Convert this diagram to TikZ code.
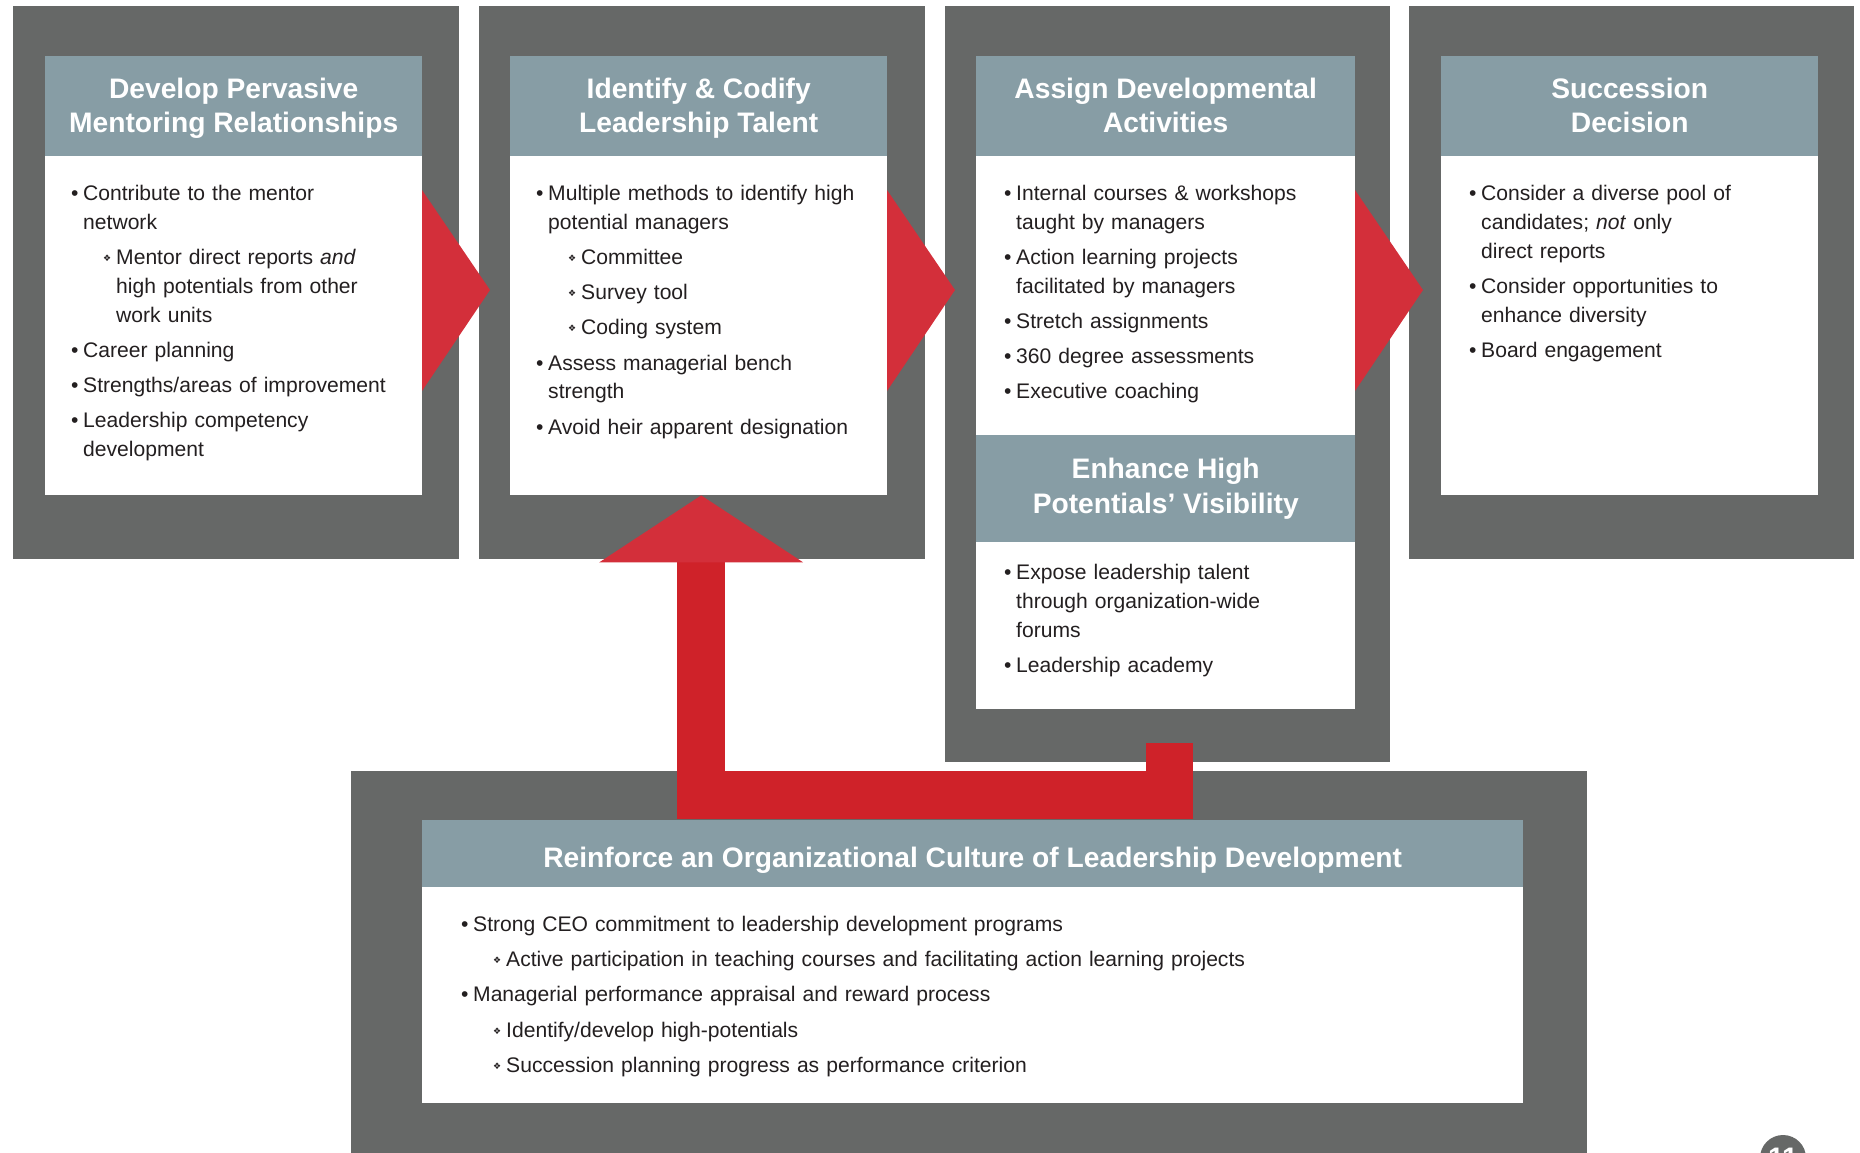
\documentclass[tikz,border=0pt]{standalone}
\usepackage{fontspec}
\setmainfont{Liberation Sans}
\newfontfamily\symfont{DejaVu Sans}
\usetikzlibrary{arrows.meta}

\definecolor{framegray}{HTML}{666867}
\definecolor{headblue}{HTML}{879DA5}
\definecolor{chevred}{HTML}{D32F3A}
\definecolor{barred}{HTML}{CF2229}
\definecolor{textgray}{HTML}{231F20}

\newcommand{\bodyfont}{\fontsize{21.1pt}{28.8pt}\selectfont}
\newcommand{\headfont}{\fontsize{28.2pt}{34.4pt}\selectfont\bfseries}
\newcommand{\hsp}[1][30pt]{\rule{0pt}{#1}}
\newcommand{\itm}[1]{\par\hangindent=12pt\hangafter=1\noindent\strut\makebox[12pt][l]{\textbullet}#1\par}
\newcommand{\subitm}[1]{\par\hangindent=45pt\hangafter=1\noindent\strut\hspace*{32pt}\makebox[13pt][l]{\raisebox{3pt}{\symfont\fontsize{9pt}{9pt}\selectfont ❖}}#1\par}

\begin{document}
\begin{tikzpicture}[x=1pt,y=-1pt,
    boxframe/.style={fill=framegray,anchor=north west,inner sep=0pt,minimum width=446pt},
    boxhead/.style={fill=headblue,text=white,font=\headfont,align=center,anchor=north west,inner sep=0pt,minimum width=377pt,minimum height=99.5pt,execute at end node={\strut}},
    boxbody/.style={fill=white,anchor=north west,inner sep=0pt,minimum width=377pt},
    itemtext/.style={anchor=north west,inner sep=0pt,align=left,text width=#1,font=\bodyfont,text=textgray,execute at begin node={\setlength{\parskip}{6.4pt}}},
    chev/.style={fill=chevred}]
\useasboundingbox (0,0) rectangle (1860,1153);

\node[boxframe,minimum height=553pt] (f1) at (13,6) {};
\node[boxframe,minimum height=553pt] (f2) at (479,6) {};
\node[boxframe,minimum height=756pt,minimum width=445pt] (f3) at (945,6) {};
\node[boxframe,minimum height=553pt,minimum width=445pt] (f4) at (1409,6) {};
\node[boxframe,minimum height=400pt,minimum width=1236pt] (f5) at (351,771) {};

\node[boxbody,minimum height=340pt] (b1) at (45,155) {};
\node[boxbody,minimum height=340pt] (b2) at (510,155) {};
\node[boxbody,minimum height=554pt,minimum width=379pt] (b3) at (976,155) {};
\node[boxbody,minimum height=340pt] (b4) at (1441,155) {};
\node[boxbody,minimum height=216pt,minimum width=1101pt] (b5) at (422,887) {};

\node[boxhead] (h1) at (45,56) {\hsp Develop Pervasive\\Mentoring Relationships};
\node[boxhead] (h2) at (510,56) {\hsp Identify \& Codify\\Leadership Talent};
\node[boxhead,minimum width=379pt] (h3) at (976,56) {\hsp Assign Developmental\\Activities};
\node[boxhead] (h4) at (1441,56) {\hsp Succession\\Decision};
\node[boxhead,minimum width=379pt,minimum height=107pt] (h3b) at (976,435) {\hsp[25pt]Enhance High\\Potentials’ Visibility};
\node[boxhead,minimum width=1101pt,minimum height=67pt] (h5) at (422,820) {\hsp[38pt]Reinforce an Organizational Culture of Leadership Development};

\node[itemtext=345pt] (t1) at (71,165) {%
    \itm{Contribute to the mentor\newline network}
    \subitm{Mentor direct reports \textit{and}\newline high potentials from other\newline work units}
    \itm{Career planning}
    \itm{Strengths/areas of improvement}
    \itm{Leadership competency\newline development}};
\node[itemtext=345pt] (t2) at (536,165) {%
    \itm{Multiple methods to identify high\newline potential managers}
    \subitm{Committee}
    \subitm{Survey tool}
    \subitm{Coding system}
    \itm{Assess managerial bench\newline strength}
    \itm{Avoid heir apparent designation}};
\node[itemtext=345pt] (t3) at (1004,165) {%
    \itm{Internal courses \& workshops\newline taught by managers}
    \itm{Action learning projects\newline facilitated by managers}
    \itm{Stretch assignments}
    \itm{360 degree assessments}
    \itm{Executive coaching}};
\node[itemtext=345pt] (t3b) at (1004,544) {%
    \itm{Expose leadership talent\newline through organization-wide\newline forums}
    \itm{Leadership academy}};
\node[itemtext=345pt] (t4) at (1469,165) {%
    \itm{Consider a diverse pool of\newline candidates; \textit{not} only\newline direct reports}
    \itm{Consider opportunities to\newline enhance diversity}
    \itm{Board engagement}};
\node[itemtext=1040pt] (t5) at (461,896) {%
    \itm{Strong CEO commitment to leadership development programs}
    \subitm{Active participation in teaching courses and facilitating action learning projects}
    \itm{Managerial performance appraisal and reward process}
    \subitm{Identify/develop high-potentials}
    \subitm{Succession planning progress as performance criterion}};

\foreach \x in {422,887,1355}
    \fill[chev] (\x,190) -- (\x+68,290) -- (\x,391) -- cycle;

\coordinate (stub) at (1169.5,743);
\coordinate (bend) at (1169.5,795);
\draw[barred,line width=47.5pt,-{Triangle[width=204pt,length=67pt,line width=0pt,fill=chevred]}] (stub) -- (bend) -| ([xshift=2.5pt]b2.south);

\node[circle,fill=framegray,minimum size=46pt,inner sep=0pt,text=white,font=\headfont] (pg) at (1783,1158) {11};
\end{tikzpicture}
\end{document}
